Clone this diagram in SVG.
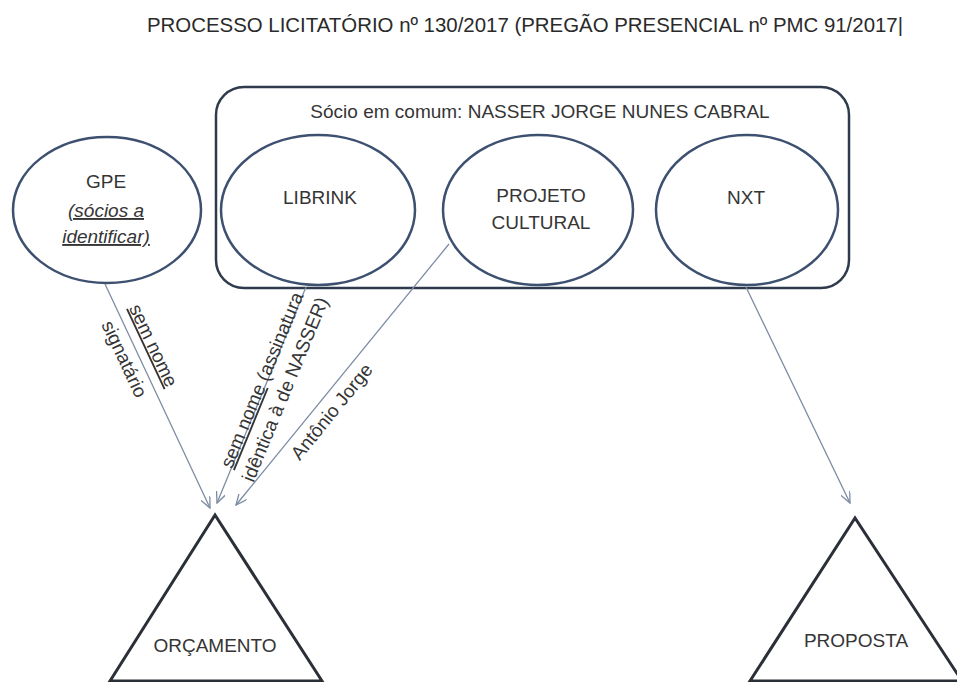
<svg xmlns="http://www.w3.org/2000/svg" width="957" height="682" viewBox="0 0 957 682">
  <style>
    text { font-family: "Liberation Sans", Arial, sans-serif; font-size: 19px; fill: #353535; }
    .title { fill: #2a2a2a; font-size: 20px; }
    .ell { fill: #ffffff; stroke: #3d5070; stroke-width: 2.5; }
    .box { fill: none; stroke: #2f3b4d; stroke-width: 2.5; }
    .tri { fill: #ffffff; stroke: #2b2f38; stroke-width: 3; stroke-linejoin: miter; }
    .conn { fill: none; stroke: #7d8ca3; stroke-width: 1.3; marker-end: url(#open-arrow); }
    .ul { text-decoration: underline; }
    .it { font-style: italic; }
  </style>
  <defs>
    <marker id="open-arrow" viewBox="0 0 12 10" refX="11" refY="5" markerWidth="12" markerHeight="10" markerUnits="userSpaceOnUse" orient="auto">
      <path d="M0,0 L11,5 L0,10" fill="none" stroke="#7d8ca3" stroke-width="1.3"/>
    </marker>
  </defs>

  <rect width="957" height="682" fill="#ffffff"/>

  <text class="title" x="525" y="32" text-anchor="middle" textLength="756" lengthAdjust="spacingAndGlyphs">PROCESSO LICITATÓRIO nº 130/2017 (PREGÃO PRESENCIAL nº PMC 91/2017|</text>

  <!-- shared partner frame -->
  <g id="socio-comum">
    <rect class="box" x="216" y="87" width="633" height="201" rx="28" ry="28"/>
    <text x="540" y="118" text-anchor="middle">Sócio em comum: NASSER JORGE NUNES CABRAL</text>
  </g>

  <g id="gpe">
    <ellipse class="ell" cx="107" cy="210" rx="94" ry="73"/>
    <text x="106" y="188" text-anchor="middle">GPE</text>
    <text class="it ul" x="106" y="217" text-anchor="middle">(sócios a</text>
    <text class="it ul" x="106" y="243" text-anchor="middle">identificar)</text>
  </g>

  <g id="librink">
    <ellipse class="ell" cx="318" cy="210" rx="97" ry="75"/>
    <text x="320" y="204" text-anchor="middle">LIBRINK</text>
  </g>

  <g id="projeto-cultural">
    <ellipse class="ell" cx="538" cy="210" rx="95" ry="75"/>
    <text x="541" y="202" text-anchor="middle">PROJETO</text>
    <text x="541" y="229" text-anchor="middle">CULTURAL</text>
  </g>

  <g id="nxt">
    <ellipse class="ell" cx="747" cy="210" rx="91" ry="75"/>
    <text x="746" y="204" text-anchor="middle">NXT</text>
  </g>

  <g id="orcamento">
    <polygon class="tri" points="215,515 110,681 322,681"/>
    <text x="215" y="652" text-anchor="middle">ORÇAMENTO</text>
  </g>

  <g id="proposta">
    <polygon class="tri" points="855,518 750,681 962,681"/>
    <text x="856" y="647" text-anchor="middle">PROPOSTA</text>
  </g>

  <!-- connectors -->
  <g id="connectors">
    <line class="conn" x1="105" y1="284" x2="210" y2="508"/>
    <line class="conn" x1="306" y1="287" x2="217" y2="503"/>
    <line class="conn" x1="449" y1="244" x2="236" y2="505"/>
    <line class="conn" x1="746" y1="287" x2="850" y2="503"/>

    <g transform="translate(137.6,352.8) rotate(64.9)">
      <text class="ul" x="0" y="-11" text-anchor="middle">sem nome</text>
      <text x="0" y="21" text-anchor="middle">signatário</text>
    </g>
    <g transform="translate(267,382) rotate(-67.6)">
      <text x="0" y="1" text-anchor="middle"><tspan class="ul">sem nome</tspan> (assinatura</text>
      <text x="0" y="26" text-anchor="middle">idêntica à de NASSER)</text>
    </g>
    <g transform="translate(319.6,401.8) rotate(-51)">
      <text x="0" y="22" text-anchor="middle">Antônio Jorge</text>
    </g>
  </g>
</svg>
